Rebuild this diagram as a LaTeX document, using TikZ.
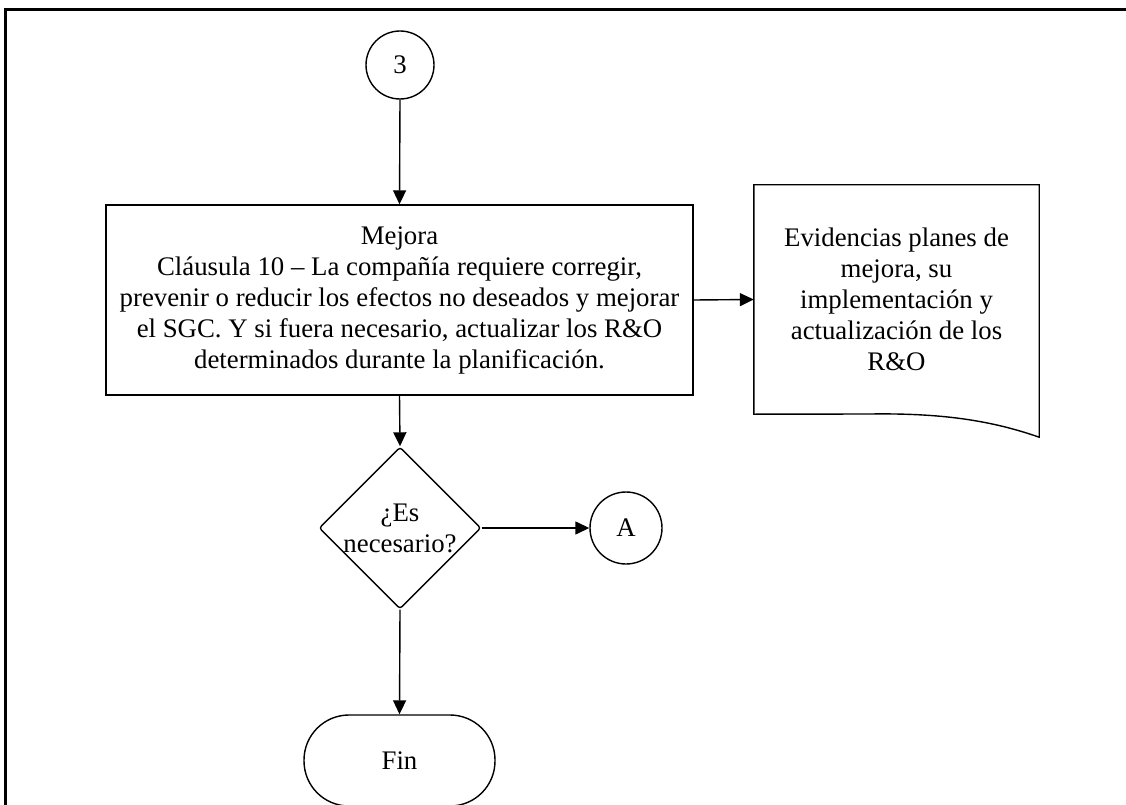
\documentclass[tikz,border=0pt]{standalone}
\usepackage{fontspec}
\setmainfont{Liberation Serif}
\usetikzlibrary{arrows.meta,shapes.geometric}

\tikzset{
  shape line/.style={draw=black, line width=1.4pt},
  txt/.style={font=\fontsize{26.8}{31}\selectfont, align=center, inner sep=0pt},
  connector/.style={draw=black, line width=1.4pt, -{Triangle[length=14pt,width=13pt]}},
  conncircle/.style={shape line, circle, inner sep=0pt, txt},
  processbox/.style={shape line, rectangle, inner sep=0pt, txt},
  decision/.style={shape line, diamond, inner sep=0pt, txt, rounded corners=3pt},
  terminal/.style={shape line, rectangle, rounded corners=45pt, inner sep=0pt, txt},
  docbox/.style={rectangle, inner sep=0pt, txt},
  frameline/.style={draw=black, line width=3pt}
}

\begin{document}
\begin{tikzpicture}[x=1pt, y=-1pt]
  \useasboundingbox (0,0) rectangle (1126,805);

  % page frame (top and left edges)
  \draw[frameline] (5,805) -- (5,10) -- (1126,10);

  % flow nodes
  \node[conncircle, minimum size=68pt] (c3) at (400,65) {3};
  \node[processbox, minimum width=587pt, minimum height=190pt] (mej) at (399.5,300)
    {Mejora\\Cláusula 10 – La compañía requiere corregir,\\prevenir o reducir los efectos no deseados y mejorar\\el SGC. Y si fuera necesario, actualizar los R\&O\\determinados durante la planificación.};
  \node[docbox, minimum width=285pt, minimum height=229pt] (doc) at (896.5,299.5)
    {Evidencias planes de\\mejora, su\\implementación y\\actualización de los\\R\&O};
  \node[decision, minimum width=154pt, minimum height=152pt] (dec) at (400,528)
    {¿Es\\necesario?};
  \node[conncircle, minimum size=72pt] (A) at (626,528) {A};
  \node[terminal, minimum width=191pt, minimum height=91pt] (fin) at (399.5,760.5) {Fin};

  % document outline with wavy bottom edge
  \draw[shape line]
    (doc.south west) -- (doc.north west) -- (doc.north east) -- ([yshift=-23pt]doc.south east)
    .. controls (990,420) and (940,413) .. (870,414) -- cycle;

  % connectors
  \draw[connector] (c3.south) -- (mej.north);
  \draw[connector] (mej.east) -- (doc.west);
  \draw[connector] (mej.south) -- (dec.north);
  \draw[connector] (dec.east) -- (A.west);
  \draw[connector] (dec.south) -- (fin.north);
\end{tikzpicture}
\end{document}
